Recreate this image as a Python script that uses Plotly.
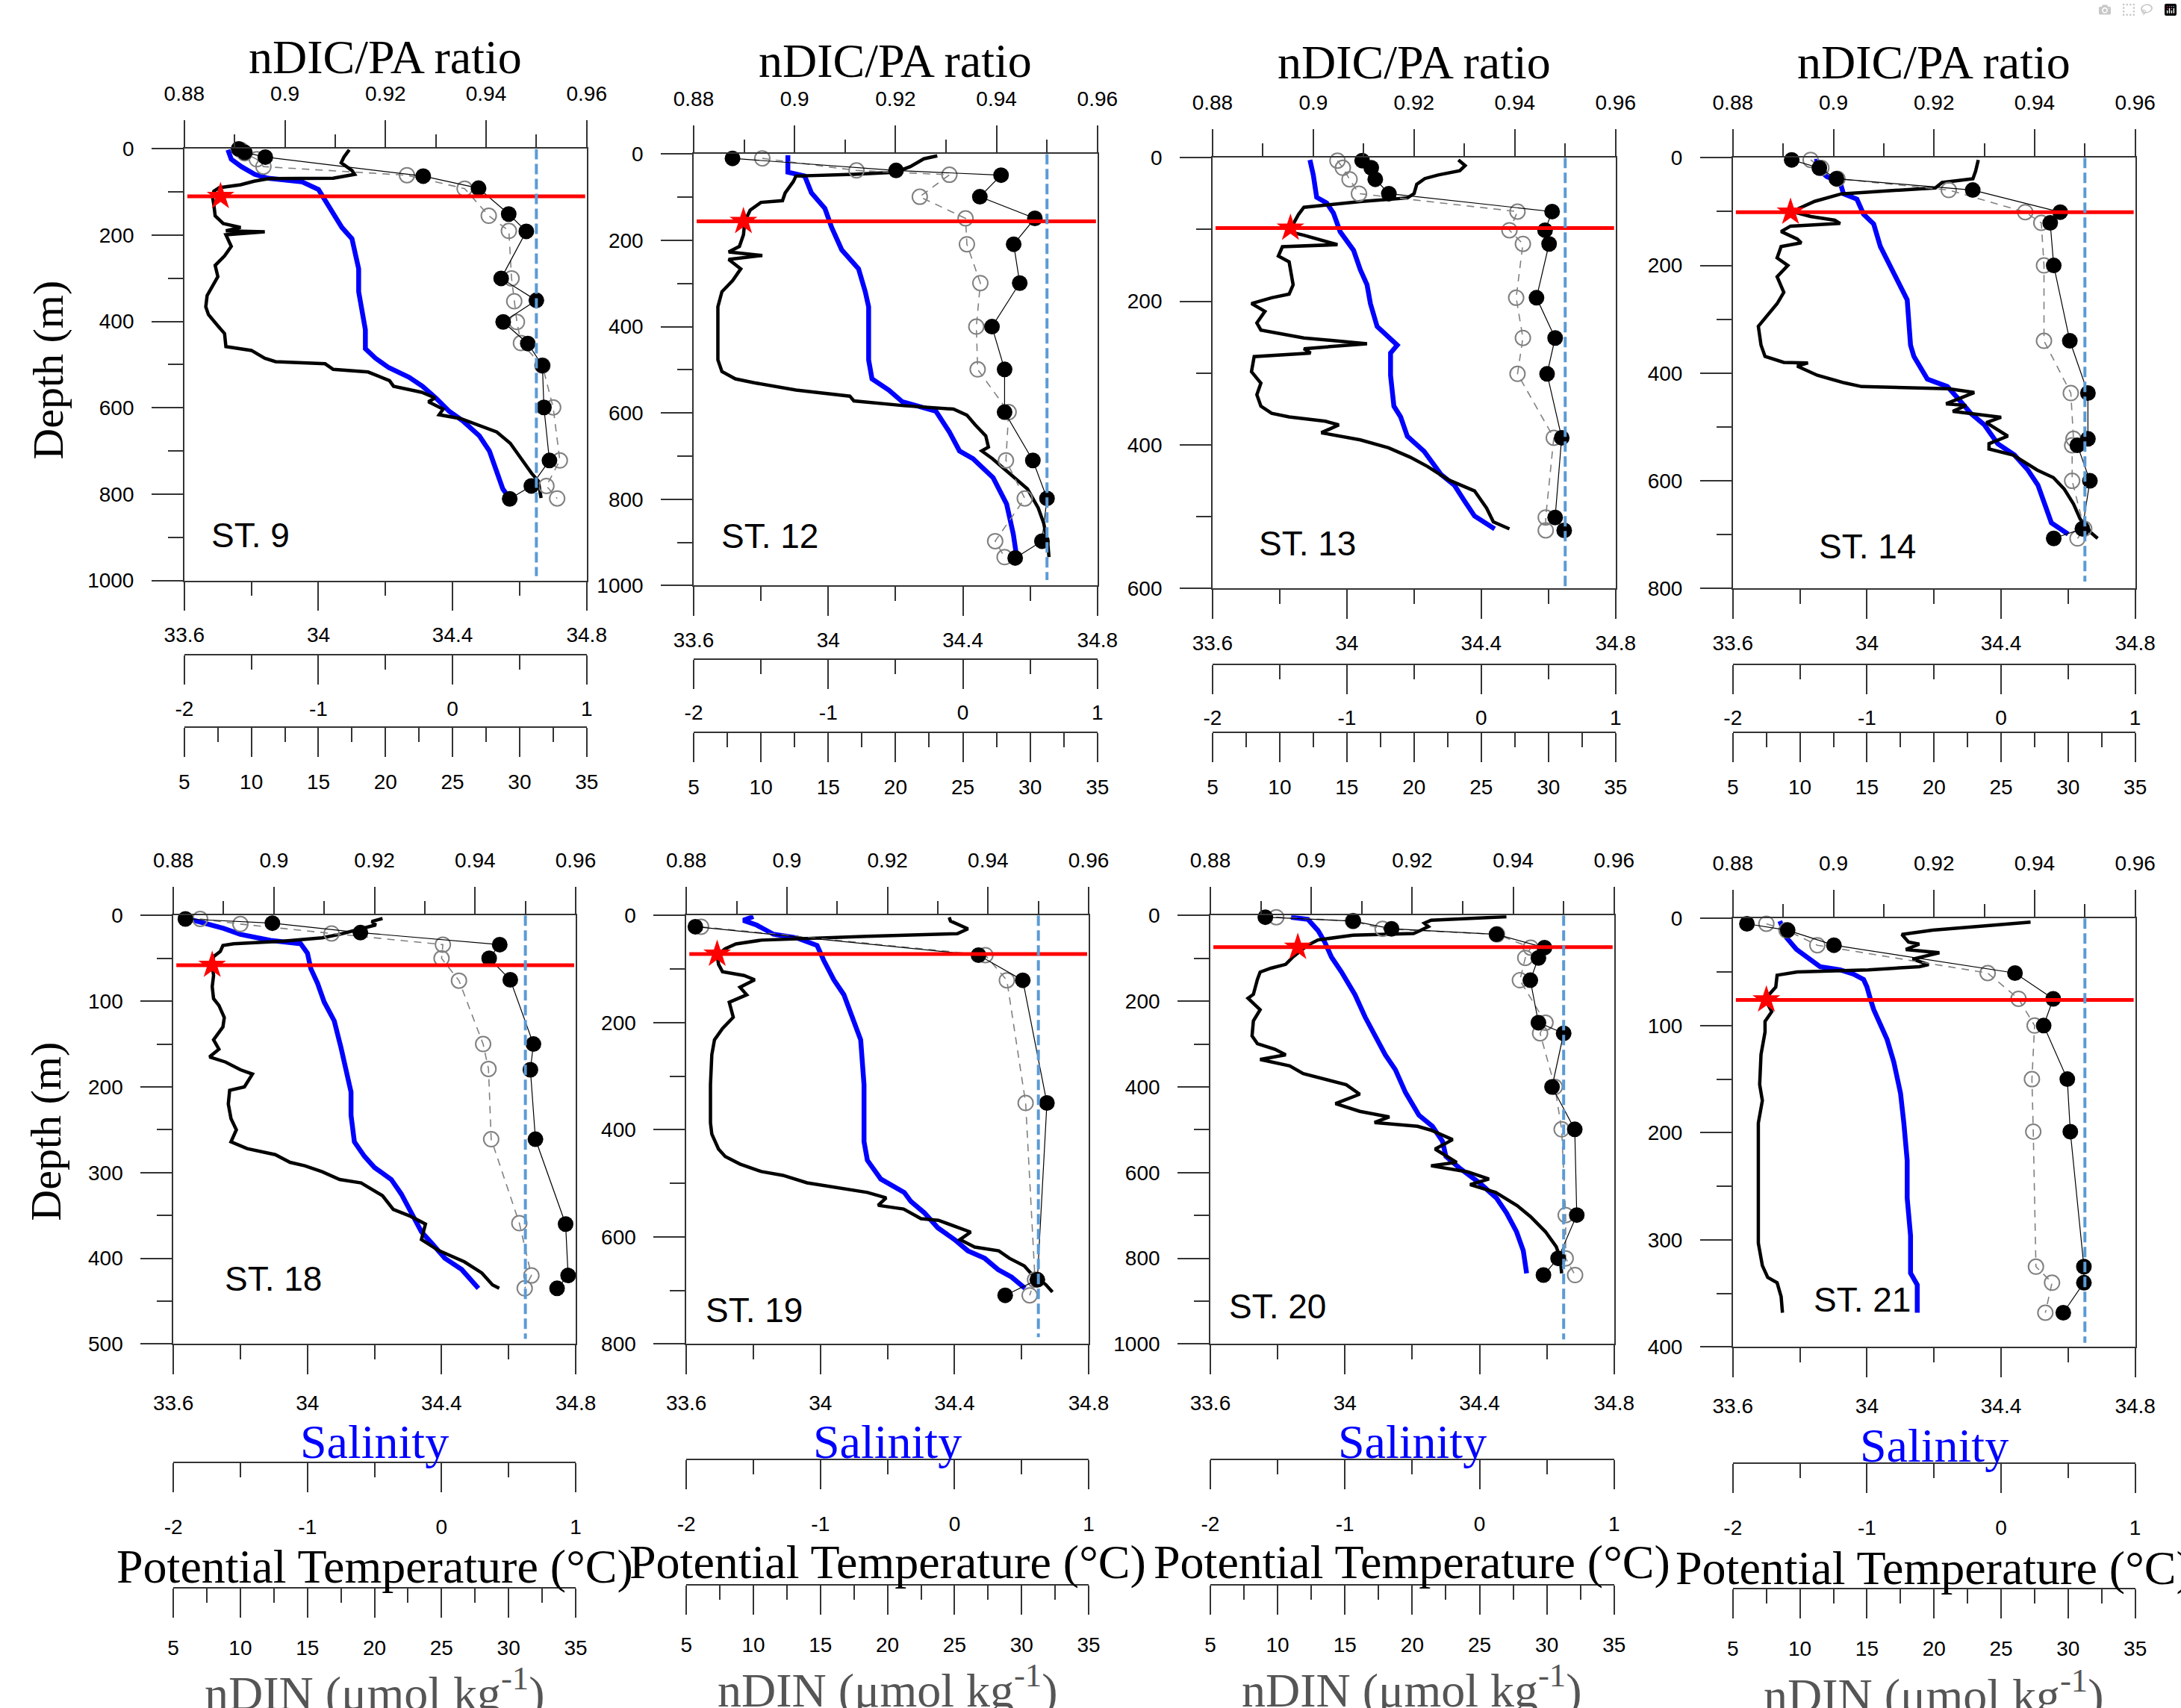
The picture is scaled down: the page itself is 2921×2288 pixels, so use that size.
import plotly.graph_objects as go

W, H = 2921, 2288

# ---------------------------------------------------------------- data
station_names = ["ST. 9", "ST. 12", "ST. 13", "ST. 14", "ST. 18", "ST. 19", "ST. 20", "ST. 21"]
max_depth = [1000, 1000, 600, 800, 500, 800, 1000, 400]
mixed_layer_depth = [110, 156, 98, 101, 58, 72, 74, 76]
mixed_layer_temp = [-1.73, -1.63, -1.42, -1.57, -1.71, -1.77, -1.35, -1.75]
mld_line_span = [0.8806, 0.9597]          # nDIC/PA extent of the red line
ratio_threshold = 0.95
threshold_line_bottom = [990, 987, 600, 787, 494, 787, 989, 396]

# ST. 9
st9_t_depth = [2, 19, 32, 50, 59, 68, 69, 75, 83, 90, 98, 111, 129, 155, 173, 182, 190, 192, 199, 226,
               248, 270, 296, 318, 340, 366, 384, 410, 428, 458, 467, 485, 493, 498, 511, 517, 537, 550, 564, 577,
               586, 603, 616, 625, 643, 656, 682, 704, 730, 752, 770, 809]
st9_temp = [-0.77, -0.81, -0.83, -0.75, -0.73, -0.89, -1.37, -1.48, -1.58, -1.74, -1.78, -1.79, -1.78, -1.77, -1.71, -1.58, -1.69, -1.40, -1.69, -1.65,
            -1.70, -1.77, -1.75, -1.79, -1.83, -1.84, -1.82, -1.75, -1.70, -1.69, -1.50, -1.40, -1.32, -0.95, -0.89, -0.63, -0.47, -0.44, -0.23, -0.13,
            -0.18, -0.07, -0.10, 0.06, 0.22, 0.33, 0.43, 0.48, 0.54, 0.59, 0.64, 0.66]
st9_s_depth = [2, 24, 41, 59, 68, 76, 94, 120, 147, 182, 208, 243, 278, 331, 384, 419, 463, 485, 507, 529,
               550, 577, 608, 630, 665, 700, 744, 788, 810]
st9_sal = [33.73, 33.74, 33.77, 33.81, 33.85, 33.95, 34.00, 34.02, 34.04, 34.07, 34.10, 34.11, 34.12, 34.12, 34.13, 34.14, 34.14, 34.17, 34.21, 34.27,
           34.31, 34.35, 34.39, 34.43, 34.48, 34.51, 34.53, 34.55, 34.57]
st9_dic_depth = [0, 8, 19, 63, 91, 151, 191, 300, 351, 401, 451, 502, 599, 722, 781, 811]
st9_dic = [0.8908, 0.8920, 0.8961, 0.9275, 0.9385, 0.9445, 0.9480, 0.9430, 0.9500, 0.9434, 0.9483, 0.9512, 0.9515, 0.9526, 0.9490, 0.9447]
st9_din_depth = [2, 10, 24, 41, 61, 92, 155, 190, 300, 353, 401, 450, 502, 599, 722, 781, 810]
st9_din = [9.2, 9.5, 10.4, 10.9, 21.6, 25.9, 27.7, 29.2, 29.4, 29.6, 29.8, 30.1, 31.7, 32.5, 33.0, 32.0, 32.8]

# ST. 12
st12_t_depth = [4, 11, 29, 42, 47, 51, 64, 90, 108, 112, 130, 156, 187, 214, 227, 235, 244, 266, 293, 319,
                354, 424, 477, 504, 521, 530, 547, 561, 572, 583, 591, 605, 627, 653, 679, 688, 706, 741, 776, 820,
                855, 899, 934]
st12_temp = [-0.19, -0.29, -0.39, -0.50, -0.81, -1.24, -1.26, -1.32, -1.34, -1.50, -1.58, -1.62, -1.63, -1.66, -1.74, -1.49, -1.74, -1.65, -1.71, -1.79,
             -1.82, -1.82, -1.82, -1.79, -1.69, -1.55, -1.24, -0.84, -0.81, -0.44, -0.07, 0.03, 0.09, 0.17, 0.19, 0.14, 0.22, 0.35, 0.48, 0.56,
             0.60, 0.63, 0.64]
st12_s_depth = [3, 38, 42, 51, 90, 126, 170, 222, 266, 319, 354, 477, 521, 547, 574, 596, 644, 688, 706, 750,
                811, 881, 934]
st12_sal = [33.88, 33.88, 33.88, 33.93, 33.95, 33.99, 34.01, 34.04, 34.09, 34.11, 34.12, 34.12, 34.13, 34.18, 34.22, 34.32, 34.36, 34.39, 34.43, 34.49,
            34.53, 34.55, 34.56]
st12_dic_depth = [10, 38, 49, 99, 149, 209, 299, 400, 499, 598, 710, 798, 897, 936]
st12_dic = [0.8877, 0.9201, 0.9409, 0.9367, 0.9476, 0.9434, 0.9446, 0.9391, 0.9416, 0.9416, 0.9472, 0.9500, 0.9490, 0.9437]
st12_din_depth = [10, 38, 48, 99, 149, 209, 299, 400, 499, 598, 710, 798, 897, 934]
st12_din = [10.1, 17.1, 24.0, 21.8, 25.2, 25.3, 26.3, 26.0, 26.1, 28.4, 28.2, 29.6, 27.4, 28.1]

# ST. 13
st13_t_depth = [3, 11, 18, 24, 29, 37, 50, 56, 61, 69, 79, 92, 103, 108, 116, 121, 124, 137, 145, 177,
                190, 195, 203, 214, 230, 240, 251, 259, 266, 272, 277, 298, 314, 330, 346, 356, 361, 367, 372, 383,
                393, 404, 417, 430, 449, 464, 488, 507, 517]
st13_temp = [-0.17, -0.12, -0.16, -0.32, -0.42, -0.48, -0.50, -0.55, -0.90, -1.32, -1.36, -1.40, -1.43, -1.32, -1.16, -1.07, -1.48, -1.51, -1.43, -1.40,
             -1.43, -1.56, -1.71, -1.61, -1.67, -1.64, -1.32, -0.85, -1.32, -1.27, -1.69, -1.71, -1.64, -1.67, -1.64, -1.56, -1.43, -1.16, -1.06, -1.19,
             -0.90, -0.69, -0.53, -0.40, -0.24, -0.05, 0.04, 0.09, 0.21]
st13_s_depth = [3, 24, 55, 63, 77, 103, 129, 156, 177, 203, 235, 251, 261, 272, 303, 346, 361, 388, 409, 441,
                456, 478, 499, 517]
st13_sal = [33.89, 33.90, 33.91, 33.94, 33.96, 33.98, 34.02, 34.04, 34.06, 34.07, 34.09, 34.13, 34.15, 34.13, 34.13, 34.14, 34.16, 34.18, 34.23, 34.28,
            34.32, 34.35, 34.38, 34.44]
st13_dic_depth = [4, 14, 30, 50, 75, 101, 120, 195, 251, 301, 390, 501, 519]
st13_dic = [0.9097, 0.9115, 0.9123, 0.9150, 0.9474, 0.9460, 0.9468, 0.9443, 0.9480, 0.9464, 0.9493, 0.9480, 0.9498]
st13_din_depth = [4, 14, 30, 50, 75, 101, 120, 195, 251, 301, 390, 501, 519]
st13_din = [14.3, 14.7, 15.2, 15.9, 27.7, 27.1, 28.1, 27.6, 28.1, 27.7, 30.4, 29.8, 29.8]

# ST. 14
st14_t_depth = [4, 25, 39, 46, 56, 67, 81, 100, 109, 116, 122, 127, 137, 151, 158, 165, 186, 200, 221, 250,
                271, 292, 313, 348, 369, 380, 381, 387, 404, 418, 425, 429, 436, 457, 460, 471, 482, 492, 517, 531,
                541, 552, 580, 594, 615, 643, 671, 696, 707]
st14_temp = [-0.17, -0.19, -0.21, -0.44, -0.49, -1.19, -1.39, -1.56, -1.42, -1.24, -1.20, -1.57, -1.64, -1.52, -1.49, -1.64, -1.67, -1.59, -1.67, -1.62,
             -1.67, -1.74, -1.81, -1.79, -1.76, -1.62, -1.44, -1.52, -1.37, -1.17, -1.04, -0.39, -0.20, -0.41, -0.26, -0.36, 0.00, -0.11, 0.05, -0.09,
             -0.09, 0.09, 0.27, 0.39, 0.47, 0.54, 0.59, 0.67, 0.72]
st14_s_depth = [2, 18, 35, 46, 67, 77, 105, 123, 165, 214, 264, 348, 369, 411, 425, 446, 475, 496, 531, 552,
                580, 608, 643, 678, 699]
st14_sal = [33.85, 33.85, 33.88, 33.92, 33.93, 33.97, 33.99, 34.02, 34.04, 34.08, 34.12, 34.13, 34.14, 34.18, 34.24, 34.27, 34.31, 34.35, 34.39, 34.44,
            34.48, 34.51, 34.53, 34.55, 34.60]
st14_dic_depth = [4, 19, 39, 60, 101, 121, 200, 340, 437, 522, 534, 600, 689, 707]
st14_dic = [0.8917, 0.8972, 0.9006, 0.9277, 0.9451, 0.9431, 0.9438, 0.9470, 0.9506, 0.9506, 0.9485, 0.9510, 0.9495, 0.9438]
st14_din_depth = [4, 19, 39, 60, 101, 121, 200, 340, 437, 522, 534, 600, 689, 707]
st14_din = [10.8, 11.6, 12.8, 21.1, 26.8, 28.0, 28.2, 28.2, 30.2, 30.4, 30.3, 30.3, 31.2, 30.7]

# ST. 18
st18_t_depth = [3.5, 7, 11, 17.6, 22, 26, 30, 33, 35, 42, 48, 57, 70, 83, 97, 105, 119, 130, 145, 156,
                165, 171, 180, 185, 200, 204, 220, 237, 250, 264, 272, 279, 288, 292, 299, 308, 312, 327, 343, 351,
                360, 378, 391, 404, 417, 431, 435]
st18_temp = [-0.44, -0.52, -0.49, -0.65, -0.76, -0.89, -1.18, -1.55, -1.63, -1.65, -1.70, -1.71, -1.70, -1.71, -1.70, -1.66, -1.62, -1.63, -1.70, -1.66,
             -1.73, -1.61, -1.50, -1.41, -1.47, -1.58, -1.59, -1.57, -1.53, -1.57, -1.45, -1.24, -1.13, -1.02, -0.89, -0.76, -0.60, -0.44, -0.36, -0.23,
             -0.12, -0.15, -0.02, 0.17, 0.30, 0.38, 0.43]
st18_s_depth = [3.5, 9, 15, 22, 29, 33, 44, 62, 79, 101, 123, 154, 185, 206, 233, 264, 281, 294, 308, 325,
                347, 369, 382, 400, 413, 426, 435]
st18_sal = [33.64, 33.69, 33.75, 33.80, 33.89, 33.98, 34.00, 34.01, 34.03, 34.05, 34.08, 34.10, 34.12, 34.13, 34.13, 34.14, 34.17, 34.20, 34.25, 34.28,
            34.31, 34.34, 34.37, 34.41, 34.46, 34.49, 34.51]
st18_dic_depth = [4, 9, 20, 34, 50, 75, 150, 180, 261, 360, 420, 435]
st18_dic = [0.8824, 0.8997, 0.9172, 0.9449, 0.9428, 0.9470, 0.9516, 0.9510, 0.9520, 0.9580, 0.9585, 0.9563]
st18_din_depth = [4, 10, 21, 34, 50, 76, 150, 179, 261, 359, 420, 435]
st18_din = [7.0, 10.0, 16.8, 25.1, 25.0, 26.3, 28.1, 28.5, 28.7, 30.8, 31.7, 31.2]

# ST. 19
st19_t_depth = [3.5, 10.5, 25, 34, 39, 46, 53, 62, 74, 91, 105, 112, 120, 134, 148, 162, 190, 211, 232, 260,
                316, 387, 408, 436, 450, 464, 478, 485, 499, 506, 517, 527, 541, 548, 566, 569, 591, 605, 619, 626,
                640, 654, 668, 689, 703]
st19_temp = [-0.04, -0.03, 0.10, 0.02, -0.65, -1.44, -1.63, -1.71, -1.77, -1.76, -1.73, -1.57, -1.49, -1.60, -1.55, -1.68, -1.65, -1.73, -1.79, -1.81,
             -1.82, -1.82, -1.81, -1.76, -1.71, -1.60, -1.44, -1.28, -1.10, -0.91, -0.65, -0.51, -0.57, -0.38, -0.25, -0.12, 0.12, 0.04, 0.15, 0.33,
             0.41, 0.52, 0.57, 0.68, 0.73]
st19_s_depth = [2, 9, 18, 35, 42, 56, 84, 120, 148, 197, 232, 316, 422, 457, 492, 517, 534, 555, 583, 605,
                626, 640, 661, 675, 696]
st19_sal = [33.80, 33.77, 33.81, 33.86, 33.93, 33.99, 34.01, 34.04, 34.07, 34.10, 34.12, 34.13, 34.13, 34.14, 34.18, 34.25, 34.27, 34.31, 34.35, 34.40,
            34.44, 34.49, 34.53, 34.57, 34.61]
st19_dic_depth = [21, 74, 121, 350, 680, 709]
st19_dic = [0.8818, 0.9381, 0.9469, 0.9517, 0.9498, 0.9434]
st19_din_depth = [21, 74, 121, 350, 680, 709]
st19_din = [6.1, 27.3, 28.9, 30.3, 31.0, 30.6]

# ST. 20
st20_t_depth = [3, 11, 18, 26, 35, 42, 46, 57, 70, 83, 98, 114, 123, 132, 149, 184, 193, 220, 246, 281,
                299, 312, 325, 336, 351, 369, 382, 395, 417, 439, 457, 470, 483, 492, 501, 523, 545, 576, 584, 598,
                615, 628, 646, 677, 703, 738, 773, 800, 835]
st20_temp = [0.20, -0.36, -0.41, -0.38, -0.44, -0.49, -0.94, -1.20, -1.28, -1.33, -1.39, -1.44, -1.55, -1.63, -1.65, -1.68, -1.72, -1.63, -1.68, -1.69,
             -1.65, -1.52, -1.44, -1.63, -1.41, -1.31, -1.15, -0.99, -0.89, -1.07, -0.89, -0.67, -0.78, -0.46, -0.36, -0.20, -0.33, -0.17, -0.36, -0.09,
             0.07, -0.07, 0.12, 0.28, 0.38, 0.49, 0.57, 0.60, 0.61]
st20_s_depth = [4, 9, 35, 62, 97, 132, 185, 237, 281, 325, 360, 413, 466, 492, 527, 562, 589, 624, 659, 694,
                738, 782, 835]
st20_sal = [33.84, 33.89, 33.92, 33.94, 33.96, 33.99, 34.03, 34.06, 34.09, 34.12, 34.15, 34.18, 34.22, 34.26, 34.29, 34.30, 34.34, 34.40, 34.45, 34.48,
            34.51, 34.53, 34.54]
st20_dic_depth = [4, 13, 31, 44, 75, 99, 151, 250, 275, 400, 499, 699, 800, 839]
st20_dic = [0.8909, 0.9083, 0.9159, 0.9367, 0.9462, 0.9450, 0.9434, 0.9450, 0.9500, 0.9477, 0.9522, 0.9526, 0.9489, 0.9460]
st20_din_depth = [4, 13, 31, 44, 75, 99, 151, 250, 275, 400, 499, 699, 800, 839]
st20_din = [9.9, 15.6, 17.8, 26.3, 28.8, 28.4, 28.0, 29.9, 29.5, 30.6, 31.1, 31.4, 31.4, 32.1]

# ST. 21
st21_t_depth = [3.5, 8, 11, 15, 22, 24, 29, 32, 38, 43, 45, 48, 50, 53, 64, 71, 80, 87, 96, 106,
                127, 155, 170, 191, 226, 261, 303, 324, 335, 340, 353, 368]
st21_temp = [0.22, -0.24, -0.51, -0.74, -0.69, -0.61, -0.71, -0.46, -0.66, -0.54, -0.61, -0.99, -1.52, -1.67, -1.68, -1.73, -1.74, -1.71, -1.76, -1.76,
             -1.79, -1.80, -1.78, -1.81, -1.81, -1.81, -1.81, -1.78, -1.74, -1.67, -1.64, -1.63]
st21_s_depth = [2.5, 11, 18, 29, 36, 45, 48, 52, 57, 64, 75, 85, 99, 113, 134, 163, 191, 226, 261, 296,
                331, 342, 368]
st21_sal = [33.74, 33.75, 33.76, 33.79, 33.82, 33.86, 33.92, 33.96, 33.99, 34.00, 34.01, 34.02, 34.04, 34.06, 34.08, 34.10, 34.11, 34.12, 34.12, 34.13,
            34.13, 34.15, 34.15]
st21_dic_depth = [5, 11, 25, 51, 75, 100, 150, 199, 325, 340, 368]
st21_dic = [0.8828, 0.8909, 0.9001, 0.9361, 0.9437, 0.9418, 0.9465, 0.9471, 0.9498, 0.9498, 0.9457]
st21_din_depth = [5, 11, 25, 51, 75, 100, 150, 199, 325, 340, 368]
st21_din = [7.5, 9.0, 11.3, 24.0, 26.3, 27.5, 27.3, 27.4, 27.6, 28.8, 28.3]

profiles = [
    (st9_t_depth, st9_temp, st9_s_depth, st9_sal, st9_dic_depth, st9_dic, st9_din_depth, st9_din),
    (st12_t_depth, st12_temp, st12_s_depth, st12_sal, st12_dic_depth, st12_dic, st12_din_depth, st12_din),
    (st13_t_depth, st13_temp, st13_s_depth, st13_sal, st13_dic_depth, st13_dic, st13_din_depth, st13_din),
    (st14_t_depth, st14_temp, st14_s_depth, st14_sal, st14_dic_depth, st14_dic, st14_din_depth, st14_din),
    (st18_t_depth, st18_temp, st18_s_depth, st18_sal, st18_dic_depth, st18_dic, st18_din_depth, st18_din),
    (st19_t_depth, st19_temp, st19_s_depth, st19_sal, st19_dic_depth, st19_dic, st19_din_depth, st19_din),
    (st20_t_depth, st20_temp, st20_s_depth, st20_sal, st20_dic_depth, st20_dic, st20_din_depth, st20_din),
    (st21_t_depth, st21_temp, st21_s_depth, st21_sal, st21_dic_depth, st21_dic, st21_din_depth, st21_din),
]

# tick labels
sal_ticks = [33.6, 34.0, 34.4, 34.8]
sal_ticktext = ["33.6", "34", "34.4", "34.8"]
sal_minor = [33.8, 34.2, 34.6]
ratio_ticks = [0.88, 0.90, 0.92, 0.94, 0.96]
ratio_ticktext = ["0.88", "0.9", "0.92", "0.94", "0.96"]
ratio_minor = [0.89, 0.91, 0.93, 0.95]
temp_ticks = [-2, -1, 0, 1]
temp_ticktext = ["-2", "-1", "0", "1"]
temp_minor = [-1.5, -0.5, 0.5]
din_ticks = [5, 10, 15, 20, 25, 30, 35]
din_ticktext = ["5", "10", "15", "20", "25", "30", "35"]
din_minor = [7.5, 12.5, 17.5, 22.5, 27.5, 32.5]

# ---------------------------------------------------------------- geometry (pixels)
panel_left = [224, 919, 1627, 2337, 209, 909, 1624, 2337]
panel_right = [773, 1470, 2177, 2886, 758, 1458, 2175, 2886]
panel_top = [187, 194, 199, 199, 1228, 1228, 1228, 1232]
panel_bottom = [773, 780, 784, 784, 1810, 1810, 1810, 1814]
temp_axis_y = [874, 880, 887, 887, 1971, 1967, 1967, 1972]
din_axis_y = [972, 979, 979, 979, 2141, 2137, 2137, 2142]
sal_standoff = [8, 8, 8, 8, 14, 14, 14, 14]
temp_standoff = [8, 8, 8, 8, 22, 22, 22, 22]
din_standoff = [10, 10, 10, 10, 17, 17, 17, 17]
st_label_pos = [(259, 712), (955, 713), (1688, 723), (2452, 727), (277, 1721), (933, 1764), (1647, 1759), (2445, 1750)]
top_title_y = [62, 67, 69, 69]
sal_title_y = [1943, 1943, 1943, 1948]
temp_title_y = [2112, 2106, 2106, 2114]
din_title_y = [2279, 2275, 2275, 2282]

SANS = "Liberation Sans, Arial, sans-serif"
SERIF = "Liberation Serif, Times New Roman, serif"
AXC = "#333333"
TICK_SIZE = 28
TITLE_SIZE = 64


def px(x):
    return x / W


def py(y):
    return 1 - y / H


def aname(prefix, n):
    return prefix if n == 1 else f"{prefix}{n}"


def axis_style(tickvals, ticktext, minor_vals, ticklen, minor_len, standoff):
    return dict(
        showline=True, linecolor=AXC, linewidth=1.6,
        ticks="outside", ticklen=ticklen, tickwidth=1.6, tickcolor=AXC,
        tickmode="array", tickvals=tickvals, ticktext=ticktext,
        minor=dict(ticks="outside", ticklen=minor_len, tickwidth=1.6, tickcolor=AXC,
                   tickmode="array", tickvals=minor_vals, showgrid=False),
        showgrid=False, zeroline=False,
        tickfont=dict(family=SANS, size=TICK_SIZE, color="black"),
        ticklabelstandoff=standoff, fixedrange=True,
    )


fig = go.Figure()
layout = dict(width=W, height=H, margin=dict(l=0, r=0, t=0, b=0),
              paper_bgcolor="white", plot_bgcolor="rgba(0,0,0,0)",
              showlegend=False, shapes=[], annotations=[])

for i in range(8):
    t_d, t_v, s_d, s_v, r_d, r_v, n_d, n_v = profiles[i]
    xs, xt, xn, xr = 4 * i + 1, 4 * i + 2, 4 * i + 3, 4 * i + 4
    xs_id, xt_id, xn_id, xr_id = (aname("x", k) for k in (xs, xt, xn, xr))
    y_id = aname("y", i + 1)
    dom_x = [px(panel_left[i]), px(panel_right[i])]
    dom_y = [py(panel_bottom[i]), py(panel_top[i])]
    dmax = max_depth[i]
    if dmax >= 600:
        dmaj = list(range(0, dmax + 1, 200))
        dmin = list(range(100, dmax, 200))
    else:
        dmaj = list(range(0, dmax + 1, 100))
        dmin = list(range(50, dmax, 100))

    layout[aname("xaxis", xs)] = dict(axis_style(sal_ticks, sal_ticktext, sal_minor, 39, 19, sal_standoff[i]),
                                      domain=dom_x, anchor=y_id, side="bottom", range=[33.6, 34.8])
    layout[aname("xaxis", xt)] = dict(axis_style(temp_ticks, temp_ticktext, temp_minor, 39, 19, temp_standoff[i]),
                                      domain=dom_x, overlaying=xs_id, anchor="free",
                                      position=py(temp_axis_y[i]), side="bottom", range=[-2, 1])
    layout[aname("xaxis", xn)] = dict(axis_style(din_ticks, din_ticktext, din_minor, 39, 19, din_standoff[i]),
                                      domain=dom_x, overlaying=xs_id, anchor="free",
                                      position=py(din_axis_y[i]), side="bottom", range=[5, 35])
    layout[aname("xaxis", xr)] = dict(axis_style(ratio_ticks, ratio_ticktext, ratio_minor, 37, 18, 14),
                                      domain=dom_x, overlaying=xs_id, anchor=y_id, side="top",
                                      range=[0.88, 0.96])
    layout[aname("yaxis", i + 1)] = dict(axis_style(dmaj, [str(v) for v in dmaj], dmin, 42, 20, 18),
                                         domain=dom_y, anchor=xs_id, range=[dmax, 0], mirror=True)

    # salinity profile
    fig.add_trace(go.Scatter(x=s_v, y=s_d, xaxis=xs_id, yaxis=y_id, mode="lines",
                             line=dict(color="#0000FF", width=6.5), hoverinfo="skip"))
    # potential temperature profile
    fig.add_trace(go.Scatter(x=t_v, y=t_d, xaxis=xt_id, yaxis=y_id, mode="lines",
                             line=dict(color="black", width=4.5), hoverinfo="skip"))
    fig.add_trace(go.Scatter(x=[mixed_layer_temp[i]], y=[mixed_layer_depth[i]], xaxis=xt_id, yaxis=y_id,
                             mode="markers", marker=dict(symbol="star", size=28, color="#FF0000"),
                             hoverinfo="skip", cliponaxis=False))
    # nDIN (open circles)
    fig.add_trace(go.Scatter(x=n_v, y=n_d, xaxis=xn_id, yaxis=y_id, mode="lines+markers",
                             line=dict(color="#808080", width=1.6, dash="10px,8px"),
                             marker=dict(symbol="circle-open", size=20, color="#808080", line=dict(width=2)),
                             hoverinfo="skip", cliponaxis=False))
    # nDIC/PA ratio (filled circles)
    fig.add_trace(go.Scatter(x=r_v, y=r_d, xaxis=xr_id, yaxis=y_id, mode="lines+markers",
                             line=dict(color="black", width=1.2),
                             marker=dict(symbol="circle", size=21, color="black"),
                             hoverinfo="skip", cliponaxis=False))
    # mixed layer line and ratio threshold
    layout["shapes"].append(dict(type="line", xref=xr_id, yref=y_id,
                                 x0=mld_line_span[0], x1=mld_line_span[1],
                                 y0=mixed_layer_depth[i], y1=mixed_layer_depth[i],
                                 line=dict(color="#FF0000", width=5), layer="above"))
    layout["shapes"].append(dict(type="line", xref=xr_id, yref=y_id,
                                 x0=ratio_threshold, x1=ratio_threshold,
                                 y0=0, y1=threshold_line_bottom[i],
                                 line=dict(color="#5B9BD5", width=4, dash="14px,6px"), layer="above"))

    # station label
    lx, ly = st_label_pos[i]
    layout["annotations"].append(dict(text=station_names[i], xref="paper", yref="paper",
                                      x=px(lx), y=py(ly), xanchor="left", yanchor="middle",
                                      showarrow=False, font=dict(family=SANS, size=46, color="black")))
    cx = px((panel_left[i] + panel_right[i]) / 2)
    if i < 4:
        layout["annotations"].append(dict(text="nDIC/PA ratio", xref="paper", yref="paper",
                                          x=cx, y=py(top_title_y[i]), xanchor="center", yanchor="middle",
                                          showarrow=False, font=dict(family=SERIF, size=TITLE_SIZE, color="black")))
    else:
        j = i - 4
        layout["annotations"].append(dict(text="Salinity", xref="paper", yref="paper",
                                          x=cx, y=py(sal_title_y[j]), xanchor="center", yanchor="middle",
                                          showarrow=False, font=dict(family=SERIF, size=TITLE_SIZE, color="#0000FF")))
        layout["annotations"].append(dict(text="Potential Temperature (°C)", xref="paper", yref="paper",
                                          x=cx, y=py(temp_title_y[j]), xanchor="center", yanchor="middle",
                                          showarrow=False, font=dict(family=SERIF, size=TITLE_SIZE, color="black")))
        layout["annotations"].append(dict(text="nDIN (μmol kg<sup>-1</sup>)", xref="paper", yref="paper",
                                          x=cx, y=py(din_title_y[j]), xanchor="center", yanchor="middle",
                                          showarrow=False, font=dict(family=SERIF, size=TITLE_SIZE, color="#555555")))

for (dx, dy) in [(38, 487), (35, 1521)]:
    layout["annotations"].append(dict(text="Depth (m)", xref="paper", yref="paper",
                                      x=px(dx), y=py(dy), xanchor="center", yanchor="middle",
                                      textangle=-90, showarrow=False,
                                      font=dict(family=SERIF, size=58, color="black")))

fig.update_layout(**layout)
fig.write_html("out.html", post_script="document.body.style.margin='0px';")
